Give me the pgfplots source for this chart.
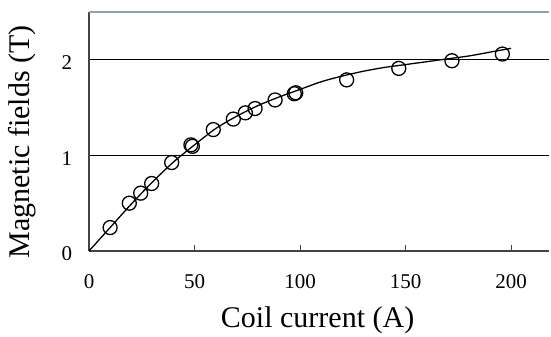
\documentclass[border=0pt]{standalone}
\usepackage{pgfplots}
\pgfplotsset{compat=1.18}
\usepackage{fontspec}
\setmainfont{Liberation Serif}
\newfontfamily\tnr{Liberation Serif}
\usetikzlibrary{calc}
\definecolor{axgray}{HTML}{3C4646}
\definecolor{topgray}{HTML}{8FA3AB}
\begin{document}
\begin{tikzpicture}
\begin{axis}[
  scale only axis,
  width=460pt, height=239pt,
  xmin=0, xmax=218, ymin=0, ymax=2.5,
  axis lines*=left,
  axis line style={axgray, line width=1.3pt},
  x axis line style={-}, y axis line style={-},
  xtick={0,50,100,150,200},
  xticklabels={\tnr 0,\tnr 50,\tnr 100,\tnr 150,\tnr 200},
  ytick={0,1,2},
  yticklabels={\tnr 0,\tnr 1,\tnr 2},
  ymajorgrids,
  grid style={black, line width=0.8pt},
  ytick style={draw=none},
  xtick style={axgray, line width=1pt},
  tick align=inside,
  major tick length=6pt,
  ticklabel style={font=\tnr\fontsize{21}{23}\selectfont},
  xticklabel style={anchor=center, yshift=-31pt},
  yticklabel style={anchor=center, xshift=-22pt, yshift=-3pt},
  xlabel={Coil current (A)},
  ylabel={Magnetic fields (T)},
  label style={font=\tnr\fontsize{30}{34}\selectfont},
  xlabel style={at={(axis description cs:0.497,-0.289)}, anchor=center},
  ylabel style={at={(axis description cs:-0.1457,0.456)}, anchor=center},
  clip=false,
]
\coordinate (O) at (rel axis cs:0,0);
\coordinate (T) at (rel axis cs:1,1);
\draw[topgray, line width=1.5pt] (rel axis cs:0,1) -- (rel axis cs:1,1);
\addplot[black, line width=1.3pt, smooth] coordinates {
(0,0) (10,0.245) (20,0.49) (30,0.72) (40,0.93) (50,1.11) (60,1.28) (70,1.41)
(80,1.52) (90,1.61) (100,1.69) (110,1.77) (120,1.83) (130,1.88) (140,1.92)
(150,1.95) (160,1.98) (170,2.01) (180,2.04) (190,2.08) (200,2.12)};
\addplot[only marks, mark=o, mark size=7pt, mark options={line width=1.3pt, black}] coordinates {
(10,0.245) (19.1,0.50) (24.5,0.605) (29.7,0.706) (39.2,0.925) (48.3,1.11) (49,1.095)
(58.9,1.27) (68.4,1.38) (74.1,1.445) (78.7,1.49) (88.2,1.58) (97.3,1.645) (98,1.655)
(122.1,1.79) (146.8,1.91) (172,1.99) (195.9,2.06)};
\end{axis}
\path ($(O)+(-89pt,-83pt)$) rectangle ($(T)+(2pt,12pt)$);
\end{tikzpicture}
\end{document}
